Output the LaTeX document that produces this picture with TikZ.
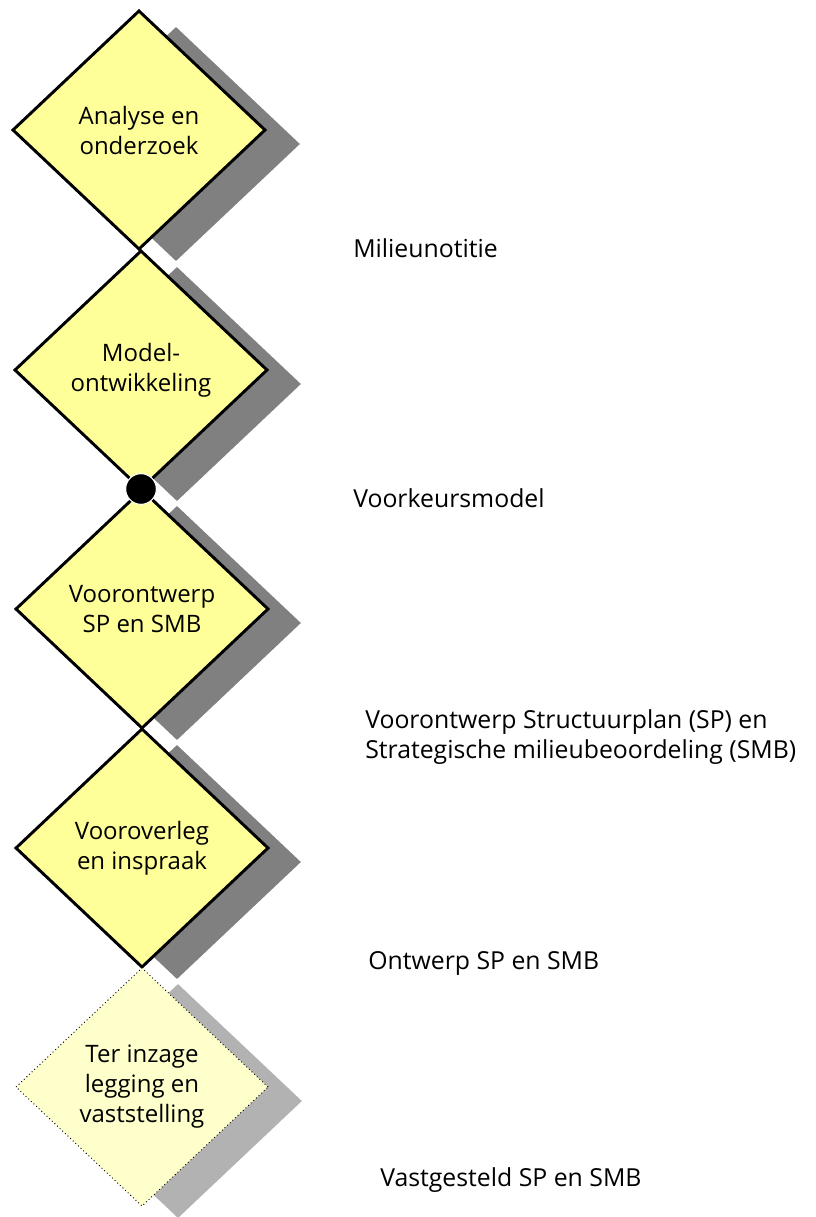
\documentclass[tikz,border=0pt]{standalone}
\usepackage{fontspec}
\setmainfont{Open Sans}
\usetikzlibrary{shapes.geometric}
\definecolor{stepyellow}{RGB}{255,255,153}
\definecolor{paleyellow}{RGB}{255,255,204}
\definecolor{shadowgrey}{RGB}{128,128,128}
\definecolor{paleshadow}{RGB}{178,178,178}
\tikzset{
  x=0.75pt, y=-0.75pt,
  diam/.style={shape=diamond, inner sep=0pt, outer sep=0pt,
    minimum width=189pt, minimum height=178.5pt,
    align=center, font=\fontsize{18}{22.5}\selectfont},
  stepbox/.style={diam, draw=black, line width=2.2pt, fill=stepyellow},
  finalbox/.style={diam, draw=black, line width=0.7pt, dotted, fill=paleyellow},
  shade/.style={diam, fill=shadowgrey, draw=white, line width=2pt},
  paleshade/.style={diam, fill=paleshadow, draw=white, line width=2pt},
  outlabel/.style={anchor=west, align=left, inner sep=0pt,
    font=\fontsize{18.6}{23}\selectfont},
}
\begin{document}
\begin{tikzpicture}
\useasboundingbox (0,0) rectangle (815,1217);
% shadows
\node[shade] (s1) at (176,144) {};
\node[shade] (s2) at (177,384) {};
\node[shade] (s3) at (177,623) {};
\node[shade] (s4) at (177,862) {};
\node[paleshade] (s5) at (178,1101) {};
% steps
\node[stepbox] (d1) at (139,130) {Analyse en\\onderzoek};
\node[stepbox] (d2) at (141,370) {Model-\\ontwikkeling};
\node[stepbox] (d3) at (142,609) {Voorontwerp\\SP en SMB};
\node[stepbox] (d4) at (142,848) {Vooroverleg\\en inspraak};
\node[finalbox] (d5) at (142,1087) {Ter inzage\\legging en\\vaststelling};
% milestone dot
\node[circle, fill=black, draw=white, line width=0.8pt, inner sep=0pt,
      minimum size=23pt] (dot) at (d2.south) {};
% outputs
\node[outlabel] (o1) at (353,248) {Milieunotitie};
\node[outlabel] (o2) at (353,498) {Voorkeursmodel};
\node[outlabel] (o3) at (365,737) {Voorontwerp Structuurplan (SP) en\\Strategische milieubeoordeling (SMB)};
\node[outlabel] (o4) at (368,963) {Ontwerp SP en SMB};
\node[outlabel] (o5) at (380,1180) {Vastgesteld SP en SMB};
\end{tikzpicture}
\end{document}
